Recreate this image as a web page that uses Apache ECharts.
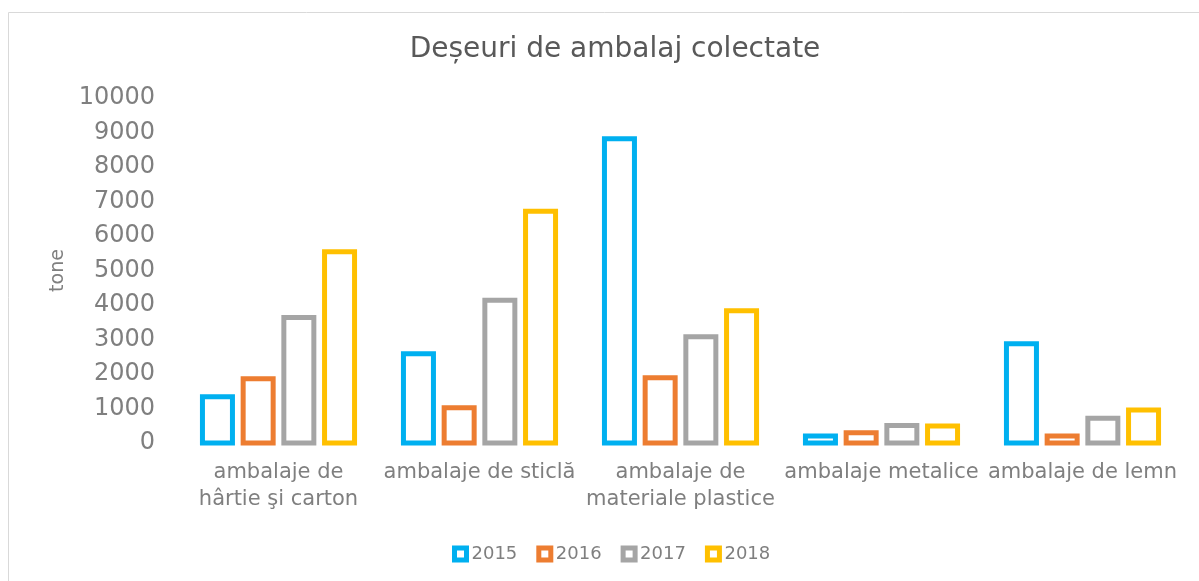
<!DOCTYPE html>
<html>
<head>
<meta charset="utf-8">
<script src="https://cdn.jsdelivr.net/npm/echarts@6/dist/echarts.min.js"></script>
<style>
  html, body { margin: 0; padding: 0; background: #fff; }
  #chart { width: 1199px; height: 581px; }
</style>
</head>
<body>
<div id="chart"></div>
<script>
const categories = [
  'ambalaje de\nhârtie şi carton',
  'ambalaje de sticlă',
  'ambalaje de\nmateriale plastice',
  'ambalaje metalice',
  'ambalaje de lemn'
];
const years = ['2015', '2016', '2017', '2018'];
const colors = ['#00B0F0', '#ED7D31', '#A5A5A5', '#FFC000'];

const values2015 = [1340, 2590, 8820, 200, 2880];
const values2016 = [1860, 1020, 1890, 300, 200];
const values2017 = [3640, 4140, 3080, 510, 715];
const values2018 = [5540, 6720, 3830, 490, 960];
const allValues = [values2015, values2016, values2017, values2018];

const font = 'DejaVu Sans';
const barW = 30;
const barStep = 40.7;
const chart = echarts.init(document.getElementById('chart'));

// hollow bars, stroke centred on the bar outline (like Excel)
function makeRender(i) {
  return function (params, api) {
    const cat = api.value(0);
    const val = api.value(1);
    const base = api.coord([cat, 0]);
    const top = api.coord([cat, val]);
    const x = base[0] + (i - 1.5) * barStep - barW / 2;
    return {
      type: 'rect',
      shape: { x: x, y: top[1], width: barW, height: base[1] - top[1] },
      style: { fill: 'none', stroke: colors[i], lineWidth: 5, lineJoin: 'miter' }
    };
  };
}

const series = years.map((y, i) => ({
  name: y,
  type: 'custom',
  renderItem: makeRender(i),
  encode: { x: 0, y: 1 },
  data: allValues[i].map((v, c) => [c, v]),
  itemStyle: { color: 'rgba(255,255,255,0)', borderColor: colors[i], borderWidth: 5 },
  silent: true
}));

chart.setOption({
  animation: false,
  graphic: [{
    type: 'rect',
    shape: { x: 8.5, y: 12.5, width: 1300, height: 700 },
    style: { fill: 'none', stroke: '#d9d9d9', lineWidth: 1 },
    silent: true
  }],
  title: {
    text: 'Deșeuri de ambalaj colectate',
    left: 610,
    top: 31,
    textAlign: 'center',
    textStyle: { fontFamily: font, fontSize: 28, fontWeight: 'normal', color: '#595959' }
  },
  legend: {
    data: years,
    left: 447,
    top: 540,
    icon: 'rect',
    itemWidth: 12,
    itemHeight: 12,
    itemGap: 19,
    itemStyle: { color: '#fff', borderWidth: 5 },
    textStyle: { fontFamily: font, fontSize: 18, color: '#7f7f7f' }
  },
  grid: { left: 178, right: 16, top: 98, bottom: 138 },
  xAxis: {
    type: 'category',
    data: categories,
    axisLine: { show: false },
    axisTick: { show: false },
    splitLine: { show: false },
    axisLabel: {
      interval: 0,
      margin: 16,
      fontFamily: font,
      fontSize: 21,
      lineHeight: 27,
      color: '#7f7f7f'
    }
  },
  yAxis: {
    type: 'value',
    min: 0,
    max: 10000,
    interval: 1000,
    name: 'tone',
    nameLocation: 'middle',
    nameRotate: 90,
    nameGap: 110,
    nameTextStyle: { fontFamily: font, fontSize: 19, color: '#7f7f7f' },
    axisLine: { show: false },
    axisTick: { show: false },
    splitLine: { show: false },
    axisLabel: {
      margin: 23,
      fontFamily: font,
      fontSize: 24,
      color: '#7f7f7f',
      formatter: v => String(v)
    }
  },
  series: series
});
</script>
</body>
</html>
